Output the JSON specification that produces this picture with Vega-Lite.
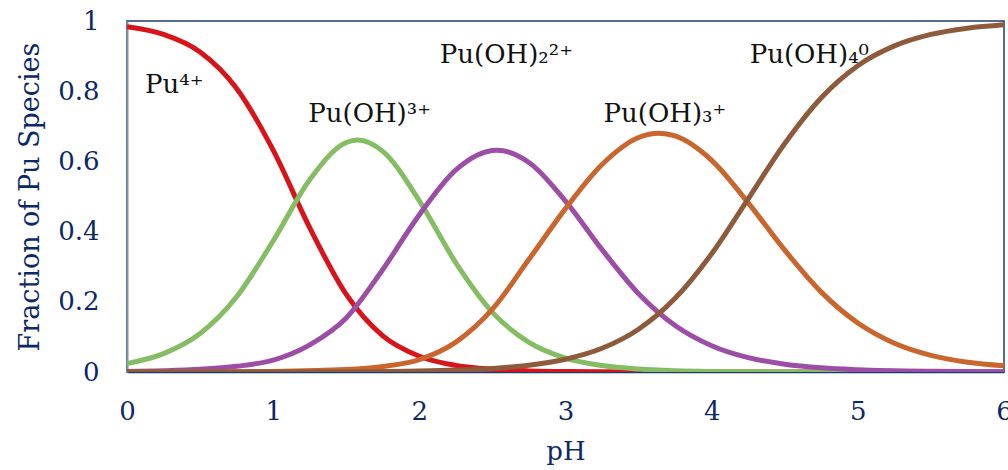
{
  "$schema": "https://vega.github.io/schema/vega-lite/v6.json",
  "width": 877,
  "height": 351,
  "autosize": {"type": "none"},
  "padding": {"left": 127, "top": 21, "right": 4, "bottom": 98},
  "background": "white",
  "config": {"view": {"stroke": "#1d3a78", "strokeWidth": 1.5}, "font": "DejaVu Serif"},
  "datasets": {
    "curves": [
      {"species": "Pu4+", "pH": 0, "fraction": 0.984},
      {"species": "Pu4+", "pH": 0.25, "fraction": 0.962},
      {"species": "Pu4+", "pH": 0.5, "fraction": 0.912},
      {"species": "Pu4+", "pH": 0.75, "fraction": 0.808},
      {"species": "Pu4+", "pH": 1.0, "fraction": 0.632},
      {"species": "Pu4+", "pH": 1.25, "fraction": 0.411},
      {"species": "Pu4+", "pH": 1.5, "fraction": 0.221},
      {"species": "Pu4+", "pH": 1.75, "fraction": 0.103},
      {"species": "Pu4+", "pH": 2.0, "fraction": 0.045},
      {"species": "Pu4+", "pH": 2.25, "fraction": 0.0187},
      {"species": "Pu4+", "pH": 2.5, "fraction": 0.0077},
      {"species": "Pu4+", "pH": 2.75, "fraction": 0.0031},
      {"species": "Pu4+", "pH": 3.0, "fraction": 0.0013},
      {"species": "Pu4+", "pH": 3.5, "fraction": 0.0002},
      {"species": "Pu4+", "pH": 4.0, "fraction": 0},
      {"species": "Pu4+", "pH": 5.0, "fraction": 0},
      {"species": "Pu4+", "pH": 6.0, "fraction": 0},

      {"species": "Pu(OH)3+", "pH": 0, "fraction": 0.0242},
      {"species": "Pu(OH)3+", "pH": 0.25, "fraction": 0.0524},
      {"species": "Pu(OH)3+", "pH": 0.5, "fraction": 0.1095},
      {"species": "Pu(OH)3+", "pH": 0.75, "fraction": 0.2143},
      {"species": "Pu(OH)3+", "pH": 1.0, "fraction": 0.3734},
      {"species": "Pu(OH)3+", "pH": 1.25, "fraction": 0.548},
      {"species": "Pu(OH)3+", "pH": 1.5, "fraction": 0.6537},
      {"species": "Pu(OH)3+", "pH": 1.58, "fraction": 0.661},
      {"species": "Pu(OH)3+", "pH": 1.75, "fraction": 0.6287},
      {"species": "Pu(OH)3+", "pH": 2.0, "fraction": 0.4878},
      {"species": "Pu(OH)3+", "pH": 2.25, "fraction": 0.311},
      {"species": "Pu(OH)3+", "pH": 2.5, "fraction": 0.17},
      {"species": "Pu(OH)3+", "pH": 2.75, "fraction": 0.0846},
      {"species": "Pu(OH)3+", "pH": 3.0, "fraction": 0.0398},
      {"species": "Pu(OH)3+", "pH": 3.25, "fraction": 0.0183},
      {"species": "Pu(OH)3+", "pH": 3.5, "fraction": 0.0083},
      {"species": "Pu(OH)3+", "pH": 3.75, "fraction": 0.0037},
      {"species": "Pu(OH)3+", "pH": 4.0, "fraction": 0.0017},
      {"species": "Pu(OH)3+", "pH": 4.5, "fraction": 0.0003},
      {"species": "Pu(OH)3+", "pH": 5.0, "fraction": 0},
      {"species": "Pu(OH)3+", "pH": 6.0, "fraction": 0},

      {"species": "Pu(OH)2 2+", "pH": 0, "fraction": 0.0017},
      {"species": "Pu(OH)2 2+", "pH": 0.25, "fraction": 0.0037},
      {"species": "Pu(OH)2 2+", "pH": 0.5, "fraction": 0.0077},
      {"species": "Pu(OH)2 2+", "pH": 0.75, "fraction": 0.0162},
      {"species": "Pu(OH)2 2+", "pH": 1.0, "fraction": 0.0337},
      {"species": "Pu(OH)2 2+", "pH": 1.25, "fraction": 0.0774},
      {"species": "Pu(OH)2 2+", "pH": 1.5, "fraction": 0.154},
      {"species": "Pu(OH)2 2+", "pH": 1.75, "fraction": 0.292},
      {"species": "Pu(OH)2 2+", "pH": 2.0, "fraction": 0.448},
      {"species": "Pu(OH)2 2+", "pH": 2.25, "fraction": 0.576},
      {"species": "Pu(OH)2 2+", "pH": 2.53, "fraction": 0.632},
      {"species": "Pu(OH)2 2+", "pH": 2.75, "fraction": 0.597},
      {"species": "Pu(OH)2 2+", "pH": 3.0, "fraction": 0.487},
      {"species": "Pu(OH)2 2+", "pH": 3.25, "fraction": 0.3487},
      {"species": "Pu(OH)2 2+", "pH": 3.5, "fraction": 0.2232},
      {"species": "Pu(OH)2 2+", "pH": 3.75, "fraction": 0.1326},
      {"species": "Pu(OH)2 2+", "pH": 4.0, "fraction": 0.075},
      {"species": "Pu(OH)2 2+", "pH": 4.25, "fraction": 0.041},
      {"species": "Pu(OH)2 2+", "pH": 4.5, "fraction": 0.0222},
      {"species": "Pu(OH)2 2+", "pH": 4.75, "fraction": 0.0118},
      {"species": "Pu(OH)2 2+", "pH": 5.0, "fraction": 0.0063},
      {"species": "Pu(OH)2 2+", "pH": 5.5, "fraction": 0.0018},
      {"species": "Pu(OH)2 2+", "pH": 6.0, "fraction": 0.0005},

      {"species": "Pu(OH)3 +", "pH": 0, "fraction": 0},
      {"species": "Pu(OH)3 +", "pH": 0.5, "fraction": 0.0002},
      {"species": "Pu(OH)3 +", "pH": 1.0, "fraction": 0.0015},
      {"species": "Pu(OH)3 +", "pH": 1.5, "fraction": 0.0069},
      {"species": "Pu(OH)3 +", "pH": 1.75, "fraction": 0.0158},
      {"species": "Pu(OH)3 +", "pH": 2.0, "fraction": 0.0353},
      {"species": "Pu(OH)3 +", "pH": 2.25, "fraction": 0.0852},
      {"species": "Pu(OH)3 +", "pH": 2.5, "fraction": 0.179},
      {"species": "Pu(OH)3 +", "pH": 2.75, "fraction": 0.321},
      {"species": "Pu(OH)3 +", "pH": 3.0, "fraction": 0.4655},
      {"species": "Pu(OH)3 +", "pH": 3.25, "fraction": 0.591},
      {"species": "Pu(OH)3 +", "pH": 3.5, "fraction": 0.668},
      {"species": "Pu(OH)3 +", "pH": 3.64, "fraction": 0.68},
      {"species": "Pu(OH)3 +", "pH": 3.75, "fraction": 0.6725},
      {"species": "Pu(OH)3 +", "pH": 4.0, "fraction": 0.603},
      {"species": "Pu(OH)3 +", "pH": 4.25, "fraction": 0.482},
      {"species": "Pu(OH)3 +", "pH": 4.5, "fraction": 0.347},
      {"species": "Pu(OH)3 +", "pH": 4.75, "fraction": 0.2276},
      {"species": "Pu(OH)3 +", "pH": 5.0, "fraction": 0.1396},
      {"species": "Pu(OH)3 +", "pH": 5.25, "fraction": 0.082},
      {"species": "Pu(OH)3 +", "pH": 5.5, "fraction": 0.0475},
      {"species": "Pu(OH)3 +", "pH": 5.75, "fraction": 0.028},
      {"species": "Pu(OH)3 +", "pH": 6.0, "fraction": 0.018},

      {"species": "Pu(OH)4 0", "pH": 0, "fraction": 0},
      {"species": "Pu(OH)4 0", "pH": 1.0, "fraction": 0},
      {"species": "Pu(OH)4 0", "pH": 1.5, "fraction": 0.0008},
      {"species": "Pu(OH)4 0", "pH": 2.0, "fraction": 0.0028},
      {"species": "Pu(OH)4 0", "pH": 2.25, "fraction": 0.0054},
      {"species": "Pu(OH)4 0", "pH": 2.5, "fraction": 0.0102},
      {"species": "Pu(OH)4 0", "pH": 2.75, "fraction": 0.0193},
      {"species": "Pu(OH)4 0", "pH": 3.0, "fraction": 0.0364},
      {"species": "Pu(OH)4 0", "pH": 3.25, "fraction": 0.0675},
      {"species": "Pu(OH)4 0", "pH": 3.5, "fraction": 0.1218},
      {"species": "Pu(OH)4 0", "pH": 3.75, "fraction": 0.2098},
      {"species": "Pu(OH)4 0", "pH": 4.0, "fraction": 0.337},
      {"species": "Pu(OH)4 0", "pH": 4.25, "fraction": 0.4935},
      {"species": "Pu(OH)4 0", "pH": 4.5, "fraction": 0.651},
      {"species": "Pu(OH)4 0", "pH": 4.75, "fraction": 0.7815},
      {"species": "Pu(OH)4 0", "pH": 5.0, "fraction": 0.8727},
      {"species": "Pu(OH)4 0", "pH": 5.25, "fraction": 0.929},
      {"species": "Pu(OH)4 0", "pH": 5.5, "fraction": 0.9617},
      {"species": "Pu(OH)4 0", "pH": 5.75, "fraction": 0.9796},
      {"species": "Pu(OH)4 0", "pH": 6.0, "fraction": 0.9893}
    ],
    "labels": [
      {"label": "Pu⁴⁺", "pH": 0.123, "fraction": 0.795},
      {"label": "Pu(OH)³⁺", "pH": 1.24, "fraction": 0.712},
      {"label": "Pu(OH)₂²⁺", "pH": 2.14, "fraction": 0.88},
      {"label": "Pu(OH)₃⁺", "pH": 3.26, "fraction": 0.712},
      {"label": "Pu(OH)₄⁰", "pH": 4.26, "fraction": 0.88}
    ]
  },
  "layer": [
    {
      "data": {"name": "curves"},
      "mark": {"type": "line", "interpolate": "monotone", "strokeWidth": 5, "clip": true},
      "encoding": {
        "x": {
          "field": "pH", "type": "quantitative",
          "scale": {"domain": [0, 6], "nice": false},
          "axis": {
            "values": [0, 1, 2, 3, 4, 5, 6], "format": "d", "grid": false,
            "ticks": false, "tickSize": 0, "labelPadding": 26, "labelFlush": false,
            "labelFont": "DejaVu Serif", "labelFontSize": 26, "labelColor": "#0b2867",
            "domainColor": "#1d3a78", "domainWidth": 1.5,
            "title": "pH", "titleFont": "DejaVu Serif", "titleFontSize": 26,
            "titleFontWeight": "normal", "titleColor": "#0b2867", "titlePadding": 14
          }
        },
        "y": {
          "field": "fraction", "type": "quantitative",
          "scale": {"domain": [0, 1], "nice": false},
          "axis": {
            "values": [0, 0.2, 0.4, 0.6, 0.8, 1], "format": "~g", "grid": false,
            "ticks": false, "tickSize": 0, "labelPadding": 28, "labelFlush": false,
            "labelFont": "DejaVu Serif", "labelFontSize": 26, "labelColor": "#0b2867",
            "domainColor": "#8792aa", "domainWidth": 2,
            "title": "Fraction of Pu Species", "titleFont": "DejaVu Serif", "titleFontSize": 27,
            "titleFontWeight": "normal", "titleColor": "#0b2867", "titlePadding": 13
          }
        },
        "color": {
          "field": "species", "type": "nominal",
          "scale": {
            "domain": ["Pu4+", "Pu(OH)3+", "Pu(OH)2 2+", "Pu(OH)3 +", "Pu(OH)4 0"],
            "range": ["#d7141a", "#84bd63", "#9c4ea6", "#c9652d", "#8d5b3b"]
          },
          "legend": null
        }
      }
    },
    {
      "data": {"name": "labels"},
      "mark": {"type": "text", "align": "left", "baseline": "alphabetic", "fontSize": 26, "font": "DejaVu Serif", "color": "#111111"},
      "encoding": {
        "x": {"field": "pH", "type": "quantitative"},
        "y": {"field": "fraction", "type": "quantitative"},
        "text": {"field": "label"}
      }
    }
  ]
}
